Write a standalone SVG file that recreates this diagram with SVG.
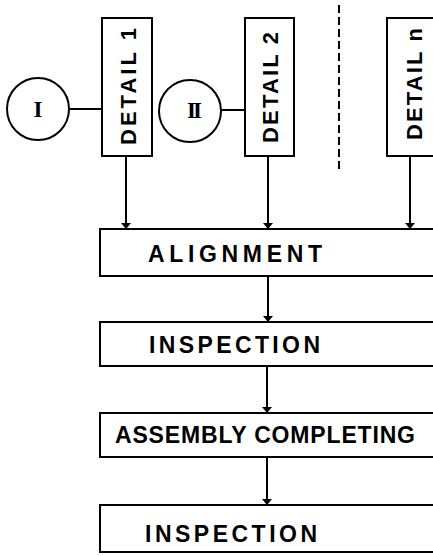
<svg xmlns="http://www.w3.org/2000/svg" width="433" height="556" viewBox="0 0 433 556">
<defs>
<marker id="ah" viewBox="0 0 10 10" refX="10" refY="5" markerWidth="6" markerHeight="10" markerUnits="userSpaceOnUse" orient="auto" preserveAspectRatio="none">
<path d="M0,0 L10,5 L0,10 Z" fill="#000"/>
</marker>
</defs>
<style>
.box{fill:#fff;stroke:#000;stroke-width:2}
.ln{fill:none;stroke:#000;stroke-width:2}
.t{font-family:"Liberation Sans",Arial,sans-serif;font-weight:bold;font-size:23px;fill:#000}
.v{font-size:22px}
.r{font-family:"Liberation Serif","Times New Roman",serif;font-weight:bold;font-size:23px;fill:#000;text-anchor:middle}
</style>
<rect width="433" height="556" fill="#fff"/>
<g id="connectors">
<line class="ln" x1="70" y1="109" x2="102" y2="109"/>
<line class="ln" x1="221" y1="110" x2="245" y2="110"/>
<line class="ln" x1="339" y1="5" x2="339" y2="170" stroke-dasharray="8,4"/>
<line class="ln" x1="126" y1="156" x2="126" y2="229" marker-end="url(#ah)"/>
<line class="ln" x1="268" y1="156" x2="268" y2="229" marker-end="url(#ah)"/>
<line class="ln" x1="410" y1="156" x2="410" y2="229" marker-end="url(#ah)"/>
<line class="ln" x1="268" y1="276" x2="268" y2="322" marker-end="url(#ah)"/>
<line class="ln" x1="267" y1="366" x2="267" y2="413" marker-end="url(#ah)"/>
<line class="ln" x1="267" y1="457" x2="267" y2="505" marker-end="url(#ah)"/>
</g>
<g id="circle1">
<circle class="box" cx="38" cy="109" r="31"/>
<text class="r" x="38" y="117">I</text>
</g>
<g id="circle2">
<circle class="box" cx="190" cy="111" r="31"/>
<text class="r" x="193" y="118" letter-spacing="-3">II</text>
</g>
<g id="detail1">
<rect class="box" x="102" y="18" width="50" height="138"/>
<text class="t v" transform="translate(136,145) rotate(-90)" textLength="117" lengthAdjust="spacing">DETAIL 1</text>
</g>
<g id="detail2">
<rect class="box" x="245" y="18" width="49" height="138"/>
<text class="t v" transform="translate(278,143) rotate(-90)" textLength="111" lengthAdjust="spacing">DETAIL 2</text>
</g>
<g id="detailn">
<rect class="box" x="387" y="18" width="60" height="138"/>
<text class="t v" transform="translate(422,140) rotate(-90)" textLength="112" lengthAdjust="spacing">DETAIL n</text>
</g>
<g id="alignment">
<rect class="box" x="100" y="229" width="345" height="47"/>
<text class="t" x="148" y="262" textLength="174" lengthAdjust="spacing">ALIGNMENT</text>
</g>
<g id="inspection1">
<rect class="box" x="100" y="322" width="345" height="44"/>
<text class="t" x="149" y="353" textLength="171" lengthAdjust="spacing">INSPECTION</text>
</g>
<g id="assembly">
<rect class="box" x="100" y="413" width="345" height="44"/>
<text class="t" x="115" y="443" textLength="300" lengthAdjust="spacing">ASSEMBLY COMPLETING</text>
</g>
<g id="inspection2">
<rect class="box" x="100" y="505" width="345" height="47"/>
<text class="t" x="145" y="542" textLength="172" lengthAdjust="spacing">INSPECTION</text>
</g>
</svg>
